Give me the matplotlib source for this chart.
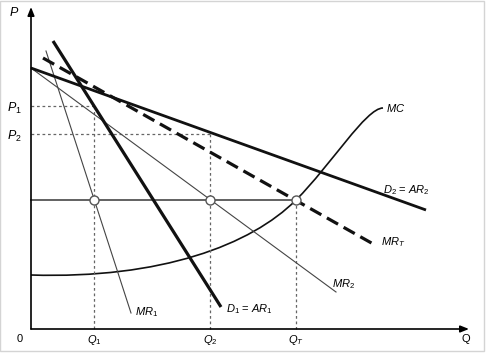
import numpy as np
import matplotlib.pyplot as plt
from matplotlib.patches import Rectangle, PathPatch
from matplotlib.path import Path

plt.rcParams['font.family'] = ['Liberation Sans', 'DejaVu Sans']
plt.rcParams['mathtext.fontset'] = 'custom'
plt.rcParams['mathtext.rm'] = 'Liberation Sans'
plt.rcParams['mathtext.it'] = 'Liberation Sans:italic'

# line end points (Q, P)
d2_q = [0, 395]
d2_p = [261, 119]
mr2_q = [0, 305]
mr2_p = [261, 37]
d1_q = [22, 190]
d1_p = [288, 22]
mr1_q = [15, 100]
mr1_p = [278, 16]
mrt_q = [12, 344]
mrt_p = [271, 84]

# marginal cost curve: bezier nodes and control points
mc_q = [0, 130, 220, 265, 300, 335, 352]
mc_p = [54, 50, 84, 129, 164, 221, 221]

# equilibrium values
mc_level = 129
q_vals = [63, 179, 265]
q_labels = ['$Q_1$', '$Q_2$', '$Q_T$']
p_vals = [223, 195]
p_labels = ['$P_1$', '$P_2$']

fig = plt.figure(figsize=(4.86, 3.54), dpi=100)
ax = fig.add_axes([0, 0, 1, 1])
ax.set_xlim(-31, 455)
ax.set_ylim(-25, 329)
ax.axis('off')

# frame
ax.add_patch(Rectangle((-30.5, -22), 483, 350.5, fill=False, ec='#d4d4d4', lw=1))

# axes with arrows
ax.annotate('', xy=(0, 322), xytext=(0, 0),
            arrowprops=dict(arrowstyle='-|>,head_length=0.5,head_width=0.2', color='black', lw=1.2, shrinkA=0, shrinkB=0))
ax.annotate('', xy=(438, 0), xytext=(0, 0),
            arrowprops=dict(arrowstyle='-|>,head_length=0.5,head_width=0.2', color='black', lw=1.2, shrinkA=0, shrinkB=0))

gdash = dict(color='#666666', lw=0.9, dashes=(2.2, 2.2))
# dashed guides
ax.plot([0, q_vals[0]], [p_vals[0], p_vals[0]], **gdash)
ax.plot([q_vals[0], q_vals[0]], [p_vals[0], 0], **gdash)
ax.plot([0, q_vals[1]], [p_vals[1], p_vals[1]], **gdash)
ax.plot([q_vals[1], q_vals[1]], [p_vals[1], 0], **gdash)
ax.plot([q_vals[2], q_vals[2]], [mc_level, 0], **gdash)

# horizontal MC level
ax.plot([0, q_vals[2]], [mc_level, mc_level], color='#555555', lw=1.3)

# curves
ax.plot(mr1_q, mr1_p, color='#444444', lw=0.8)
ax.plot(mr2_q, mr2_p, color='#444444', lw=0.8)
mc_path = Path(list(zip(mc_q, mc_p)),
               [Path.MOVETO] + [Path.CURVE4] * 6)
ax.add_patch(PathPatch(mc_path, fill=False, ec='#111111', lw=1.2))
ax.plot(d1_q, d1_p, color='#111111', lw=2.3, solid_capstyle='butt')
ax.plot(d2_q, d2_p, color='#111111', lw=2.0, solid_capstyle='butt')
ax.plot(mrt_q, mrt_p, color='#111111', lw=2.3, dashes=(4, 2), dash_capstyle='butt')

# equilibrium points
ax.plot(q_vals, [mc_level] * 3, 'o', ms=6.5, mfc='white', mec='#555555', mew=1.0, zorder=5)

fs = 8
ax.text(-17, 317, '$P$', fontsize=fs + 1, ha='center', va='center')
for p, lab in zip(p_vals, p_labels):
    ax.text(-9, p - 2, lab, fontsize=fs + 1, ha='right', va='center')
ax.text(-11, -10, '0', fontsize=fs, ha='center', va='center')
for q, lab in zip(q_vals, q_labels):
    ax.text(q, -11, lab, fontsize=fs, ha='center', va='center')
ax.text(435, -10, 'Q', fontsize=fs, ha='center', va='center')

ax.text(355, 221, '$MC$', fontsize=fs, ha='left', va='center')
ax.text(352, 139, '$D_2$ = $AR_2$', fontsize=fs, ha='left', va='center')
ax.text(350, 87, '$MR_T$', fontsize=fs, ha='left', va='center')
ax.text(301, 45, '$MR_2$', fontsize=fs, ha='left', va='center')
ax.text(195, 20, '$D_1$ = $AR_1$', fontsize=fs, ha='left', va='center')
ax.text(104, 17, '$MR_1$', fontsize=fs, ha='left', va='center')

fig.savefig('out.png', dpi=100)
